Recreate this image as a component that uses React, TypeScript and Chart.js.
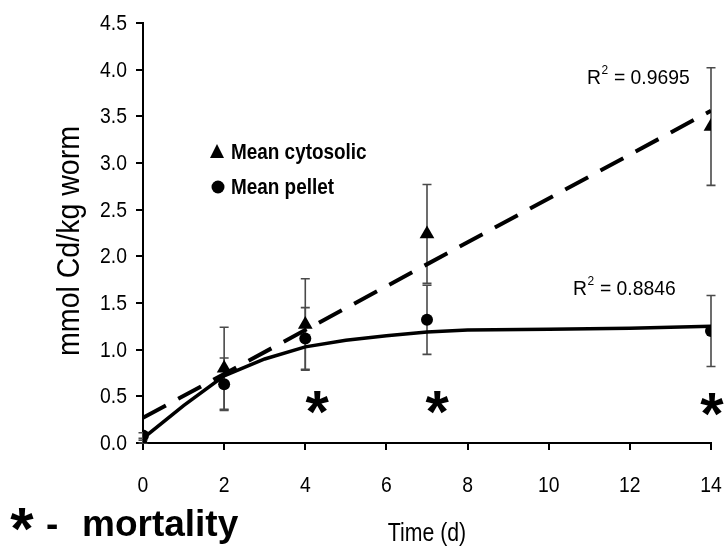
import React, { useEffect, useRef } from 'react';
import { Chart, registerables } from 'chart.js';

Chart.register(...registerables);

// ---- data ----
const days = [0, 2, 4, 7, 14];
const cytosolicMean = [0.0, 0.8, 1.27, 2.24, 3.39];
const cytosolicErr = [0.03, 0.44, 0.49, 0.53, 0.63];
const pelletMean = [0.08, 0.63, 1.12, 1.32, 1.2];
const pelletErr = [0.03, 0.28, 0.33, 0.37, 0.38];

const cytosolicFitX = [0, 14];
const cytosolicFitY = [0.27, 3.56];
const pelletFitX = [0, 1, 2, 3, 4, 5, 6, 7, 8, 10, 12, 14];
const pelletFitY = [0.05, 0.4, 0.72, 0.9, 1.03, 1.1, 1.15, 1.19, 1.21, 1.22, 1.23, 1.25];

const mortalityX = [4.29, 7.25, 14.02];
const mortalityY = [0.43, 0.43, 0.41];

const xTickValues = [0, 2, 4, 6, 8, 10, 12, 14];
const yTickValues = [0, 0.5, 1, 1.5, 2, 2.5, 3, 3.5, 4, 4.5];

const legendLabels = ['Mean cytosolic', 'Mean pellet'];
const r2Values = ['0.9695', '0.8846'];
const yTitle = 'mmol Cd/kg worm';
const xTitle = 'Time (d)';
const mortalityNote = 'mortality';

const SANS = "'Liberation Sans', Arial, sans-serif";
const SX = 0.88; // horizontal condensing of text

const toXY = (xs: number[], ys: number[]) => xs.map((x, i) => ({ x, y: ys[i] }));

function condensedText(
  ctx: CanvasRenderingContext2D,
  text: string,
  x: number,
  y: number,
  font: string,
  align: CanvasTextAlign,
  baseline: CanvasTextBaseline,
  sx: number = SX,
) {
  ctx.save();
  ctx.translate(x, y);
  ctx.scale(sx, 1);
  ctx.font = font;
  ctx.textAlign = align;
  ctx.textBaseline = baseline;
  ctx.fillText(text, 0, 0);
  ctx.restore();
}

const overlayPlugin = {
  id: 'overlay',
  beforeDatasetsDraw(chart: any) {
    const { ctx, scales } = chart;
    const xs = scales.x;
    const ys = scales.y;
    ctx.save();
    ctx.strokeStyle = '#4a4a4a';
    ctx.lineWidth = 1.6;
    const drawBars = (means: number[], errs: number[]) => {
      means.forEach((m, i) => {
        const px = xs.getPixelForValue(days[i]);
        const top = ys.getPixelForValue(m + errs[i]);
        const bot = ys.getPixelForValue(Math.max(0, m - errs[i]));
        ctx.beginPath();
        ctx.moveTo(px, top);
        ctx.lineTo(px, bot);
        ctx.moveTo(px - 4.5, top);
        ctx.lineTo(px + 4.5, top);
        ctx.moveTo(px - 4.5, bot);
        ctx.lineTo(px + 4.5, bot);
        ctx.stroke();
      });
    };
    drawBars(cytosolicMean, cytosolicErr);
    drawBars(pelletMean, pelletErr);
    ctx.restore();
  },
  afterDraw(chart: any) {
    const { ctx, scales, chartArea } = chart;
    const xs = scales.x;
    const ys = scales.y;
    ctx.save();
    ctx.fillStyle = '#000';

    // tick labels
    yTickValues.forEach((v) => {
      condensedText(ctx, v.toFixed(1), 127, ys.getPixelForValue(v) + 1, `22px ${SANS}`, 'right', 'middle');
    });
    xTickValues.forEach((v) => {
      condensedText(ctx, String(v), xs.getPixelForValue(v), 486, `22px ${SANS}`, 'center', 'middle');
    });

    // mortality asterisks
    const starSize = 60;
    mortalityX.forEach((mx, i) => {
      const px = xs.getPixelForValue(mx);
      const py = ys.getPixelForValue(mortalityY[i]);
      ctx.font = `bold ${starSize}px ${SANS}`;
      ctx.textAlign = 'center';
      ctx.textBaseline = 'alphabetic';
      ctx.fillText('*', px, py + starSize * 0.48);
    });

    // legend
    const legX = 217;
    const legY = [152, 187];
    ctx.beginPath();
    ctx.moveTo(legX, legY[0] - 8);
    ctx.lineTo(legX + 7, legY[0] + 6);
    ctx.lineTo(legX - 7, legY[0] + 6);
    ctx.closePath();
    ctx.fill();
    ctx.beginPath();
    ctx.arc(legX + 1, legY[1], 6.5, 0, Math.PI * 2);
    ctx.fill();
    condensedText(ctx, legendLabels[0], legX + 14, legY[0] + 1, `bold 22px ${SANS}`, 'left', 'middle', 0.86);
    condensedText(ctx, legendLabels[1], legX + 14, legY[1] + 1, `bold 22px ${SANS}`, 'left', 'middle', 0.86);

    // R² labels
    const drawR2 = (value: string, x: number, y: number) => {
      ctx.save();
      ctx.translate(x, y);
      ctx.scale(0.92, 1);
      ctx.textBaseline = 'middle';
      ctx.textAlign = 'left';
      ctx.font = `21px ${SANS}`;
      ctx.fillText('R', 0, 0);
      const w = ctx.measureText('R').width;
      ctx.font = `13px ${SANS}`;
      ctx.fillText('2', w + 0.5, -8);
      const w2 = ctx.measureText('2').width;
      ctx.font = `21px ${SANS}`;
      ctx.fillText(' = ' + value, w + w2 + 1, 0);
      ctx.restore();
    };
    drawR2(r2Values[0], 587, 78);
    drawR2(r2Values[1], 573, 289);

    // axis titles
    ctx.save();
    ctx.translate(70, (chartArea.top + chartArea.bottom) / 2 + 8);
    ctx.rotate(-Math.PI / 2);
    ctx.scale(0.92, 1);
    ctx.font = `31px ${SANS}`;
    ctx.textAlign = 'center';
    ctx.textBaseline = 'middle';
    ctx.fillText(yTitle, 0, 0);
    ctx.restore();

    condensedText(ctx, xTitle, (chartArea.left + chartArea.right) / 2, 534, `25px ${SANS}`, 'center', 'middle', 0.85);

    // mortality note
    ctx.font = `bold 60px ${SANS}`;
    ctx.textAlign = 'center';
    ctx.textBaseline = 'alphabetic';
    ctx.fillText('*', 22, 520 + 60 * 0.48);
    ctx.font = `bold 37px ${SANS}`;
    ctx.textAlign = 'left';
    ctx.fillText('-', 46, 536);
    ctx.fillText(mortalityNote, 82, 536);
    ctx.restore();
  },
};

export default function App() {
  const canvasRef = useRef<HTMLCanvasElement | null>(null);

  useEffect(() => {
    const canvas = canvasRef.current;
    if (!canvas) return;
    const chart = new Chart(canvas, {
      type: 'scatter',
      data: {
        datasets: [
          {
            label: 'Cytosolic fit',
            data: toXY(cytosolicFitX, cytosolicFitY),
            showLine: true,
            borderColor: '#000',
            borderWidth: 4,
            borderDash: [26, 14],
            pointRadius: 0,
            order: 3,
          },
          {
            label: 'Pellet fit',
            data: toXY(pelletFitX, pelletFitY),
            showLine: true,
            borderColor: '#000',
            borderWidth: 3.5,
            pointRadius: 0,
            order: 2,
          },
          {
            label: legendLabels[0],
            data: toXY(days, cytosolicMean),
            showLine: false,
            pointStyle: 'triangle',
            pointRadius: 8.5,
            backgroundColor: '#000',
            borderColor: '#000',
            borderWidth: 0,
            order: 1,
          },
          {
            label: legendLabels[1],
            data: toXY(days, pelletMean),
            showLine: false,
            pointStyle: 'circle',
            pointRadius: 6,
            backgroundColor: '#000',
            borderColor: '#000',
            borderWidth: 0,
            order: 0,
          },
        ],
      },
      options: {
        animation: false,
        responsive: false,
        maintainAspectRatio: false,
        layout: { padding: { left: 0, right: 14, top: 23, bottom: 0 } },
        plugins: { legend: { display: false }, tooltip: { enabled: false } },
        scales: {
          x: {
            type: 'linear',
            min: 0,
            max: 14,
            afterBuildTicks: (scale: any) => {
              scale.ticks = xTickValues.map((v) => ({ value: v }));
            },
            afterFit: (scale: any) => {
              scale.height = 109;
              scale.paddingLeft = 0;
              scale.paddingRight = 0;
            },
            ticks: { display: false },
            grid: { drawOnChartArea: false, drawTicks: true, tickLength: 7, color: '#000', lineWidth: 2 },
            border: { color: '#000', width: 2 },
          },
          y: {
            type: 'linear',
            min: 0,
            max: 4.5,
            afterBuildTicks: (scale: any) => {
              scale.ticks = yTickValues.map((v) => ({ value: v }));
            },
            afterFit: (scale: any) => {
              scale.width = 143;
              scale.paddingTop = 0;
              scale.paddingBottom = 0;
            },
            ticks: { display: false },
            grid: { drawOnChartArea: false, drawTicks: true, tickLength: 7, color: '#000', lineWidth: 2 },
            border: { color: '#000', width: 2 },
          },
        },
      },
      plugins: [overlayPlugin],
    });
    return () => chart.destroy();
  }, []);

  return (
    <div style={{ position: 'absolute', left: 0, top: 0, width: 725, height: 552, background: '#fff' }}>
      <canvas ref={canvasRef} width={725} height={552} style={{ width: 725, height: 552, display: 'block' }} />
    </div>
  );
}
